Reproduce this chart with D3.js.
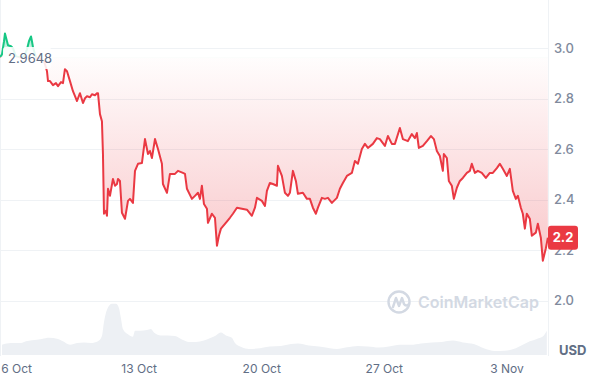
<!DOCTYPE html>
<html>
<head>
<meta charset="utf-8">
<script src="https://cdn.jsdelivr.net/npm/d3@7"></script>
<style>
  html, body { margin: 0; padding: 0; background: #fff; }
  svg { display: block; font-family: Inter, "Noto Sans", sans-serif; }
</style>
</head>
<body>
<svg id="chart" width="600" height="378"></svg>
<script>
// 1 month window, hours counted from the first sample
const startUtc = Date.UTC(2024, 9, 5, 2);
const endHour = 751;
const basePrice = 2.9648;
const lastLabel = '2.2';

const priceHours = [
    0, 2.7, 5.5, 6.8, 8.2, 11, 15.1, 17.8, 21.9, 27.4, 32.9, 37, 39.7, 42.5, 43.8, 45.2, 49.3, 54.8, 60.3,
    61.6, 64.4, 65.8, 68.5, 72.6, 76.7, 79.5, 83.6, 86.3, 89, 91.8, 95.9, 100, 102.8, 105.5, 109.6, 113.7,
    116.5, 119.2, 123.3, 126, 130.2, 132.9, 134.3, 137, 139.7, 141.1, 142.5, 145.2, 146.6, 148, 150.7, 154.8,
    157.6, 160.3, 161.7, 164.4, 167.1, 171.3, 175.4, 178.1, 182.2, 185, 189.1, 194.5, 198.7, 202.8, 205.5,
    208.2, 212.4, 216.5, 221.9, 223.3, 228.8, 232.9, 239.8, 243.9, 250.7, 253.5, 256.2, 263, 267.2, 271.3,
    274, 276.7, 279.5, 283.6, 285, 290.4, 294.6, 297.3, 300, 302.8, 308.3, 315.1, 319.2, 324.7, 331.5, 338.4,
    345.2, 349.4, 352.1, 358.9, 363.1, 365.8, 369.9, 374, 379.5, 380.9, 386.3, 390.5, 394.6, 397.3, 401.4,
    405.5, 408.3, 415.1, 420.6, 424.7, 428.8, 432.9, 435.7, 441.1, 445.3, 449.4, 454.8, 461.7, 465.8, 469.9,
    475.4, 482.2, 486.4, 490.5, 495.9, 500.1, 504.2, 511, 516.5, 520.6, 527.5, 531.6, 537, 541.2, 548, 552.1,
    559, 564.4, 568.6, 571.3, 574, 579.5, 585, 590.5, 594.6, 598.7, 602.8, 606.9, 608.3, 612.4, 615.1, 619.2,
    622, 626.1, 630.2, 634.3, 639.8, 643.9, 646.6, 650.8, 654.9, 660.3, 665.8, 671.3, 675.4, 680.9, 685,
    689.1, 694.6, 698.7, 702.8, 706.9, 709.7, 713.8, 716.5, 719.3, 722, 726.1, 728.8, 734.3, 737.1, 741.2,
    743.9, 748, 750.8
];
const priceValues = [
    2.9648, 2.976, 3.028, 3.059, 3.043, 3.012, 3.008, 3.000, 2.968, 2.964, 2.968, 2.996, 3.028, 3.047, 3.028, 3.004, 2.964, 2.957, 2.949,
    2.937, 2.909, 2.870, 2.870, 2.854, 2.862, 2.850, 2.866, 2.862, 2.917, 2.909, 2.870, 2.830, 2.810, 2.791, 2.822, 2.783,
    2.802, 2.810, 2.806, 2.818, 2.814, 2.822, 2.822, 2.739, 2.711, 2.581, 2.344, 2.356, 2.336, 2.443, 2.415, 2.482,
    2.455, 2.462, 2.482, 2.474, 2.348, 2.324, 2.395, 2.403, 2.387, 2.514, 2.542, 2.545, 2.640, 2.581, 2.593,
    2.565, 2.640, 2.601, 2.542, 2.462, 2.427, 2.502, 2.502, 2.514, 2.506, 2.502, 2.443, 2.403, 2.415, 2.427,
    2.403, 2.455, 2.383, 2.364, 2.308, 2.344, 2.328, 2.217, 2.257, 2.285, 2.304, 2.328, 2.344, 2.368, 2.364, 2.360,
    2.336, 2.368, 2.407, 2.395, 2.375, 2.435, 2.466, 2.462, 2.455, 2.534, 2.494, 2.427, 2.415, 2.427, 2.514,
    2.474, 2.423, 2.427, 2.403, 2.403, 2.368, 2.344, 2.368, 2.407, 2.403, 2.407, 2.387, 2.407, 2.443, 2.466,
    2.494, 2.506, 2.553, 2.542, 2.601, 2.621, 2.605, 2.621, 2.644, 2.640, 2.613, 2.652, 2.621, 2.621, 2.684, 2.640,
    2.632, 2.660, 2.644, 2.664, 2.605, 2.613, 2.632, 2.652, 2.640, 2.593, 2.573, 2.514, 2.581, 2.565, 2.474, 2.455,
    2.403, 2.447, 2.474, 2.486, 2.506, 2.514, 2.542, 2.506, 2.514, 2.506, 2.486, 2.506, 2.506, 2.525, 2.542,
    2.522, 2.494, 2.522, 2.435, 2.403, 2.415, 2.368, 2.344, 2.285, 2.344, 2.324, 2.257, 2.269, 2.304, 2.249,
    2.158, 2.206, 2.249
];

// volume, rough millions USD
const volumeHours = [
    2.7, 15.1, 28.8, 35.6, 43.8, 57.5, 67.1, 79.5, 86.3, 95.9, 105.5, 115.1, 124.7, 134.3, 139.7, 142.5,
    146.6, 153.4, 158.9, 163, 165.8, 168.5, 175.4, 182.2, 185, 191.8, 201.4, 206.9, 211, 220.6, 230.2,
    239.8, 249.3, 258.9, 268.5, 279.5, 289.1, 295.9, 302.8, 309.6, 317.8, 322, 331.5, 341.1, 356.2, 369.9,
    385, 398.7, 408.3, 423.3, 437, 452.1, 461.7, 475.4, 490.5, 504.2, 519.2, 532.9, 548, 563.1, 576.8,
    591.8, 605.5, 620.6, 634.3, 649.4, 663, 678.1, 691.8, 706.9, 716.5, 726.1, 735.7, 745.3, 749.4
];
const volumeValues = [
    102, 119, 119, 137, 147, 161, 172, 161, 137, 102, 119, 126, 119, 137, 189, 330,
    453, 512, 512, 470, 365, 260, 207, 182, 242, 242, 249, 260, 225, 196, 196,
    189, 154, 130, 130, 144, 172, 196, 225, 196, 172, 119, 77, 60, 67, 84,
    91, 109, 116, 95, 84, 67, 60, 77, 91, 84, 74, 84, 102, 102, 116,
    126, 130, 144, 126, 109, 67, 39, 42, 67, 102, 137, 161, 196, 242
];

const yTicks = [2.0, 2.2, 2.4, 2.6, 2.8, 3.0];
const xTickDays = [[9, 6], [9, 13], [9, 20], [9, 27], [10, 3]];

const width = 600;
const height = 378;
const plotRight = 548;
const red = '#ea3943';
const green = '#16c784';
const gridColor = '#eff2f5';
const labelColor = '#616e85';

const toDate = h => new Date(startUtc + h * 3600e3);
const prices = priceHours.map((h, i) => ({ t: toDate(h), v: priceValues[i] }));
const volumes = volumeHours.map((h, i) => ({ t: toDate(h), v: volumeValues[i] }));

const svg = d3.select('#chart');

const x = d3.scaleUtc()
    .domain([toDate(0), toDate(endHour)])
    .range([0, plotRight]);
const y = d3.scaleLinear()
    .domain([2.0, 3.0])
    .range([300.5, 48.3]);
const yVol = d3.scaleLinear()
    .domain([0, 520])
    .range([355, 303]);

const yBase = y(basePrice);
const yMin = y(d3.min(priceValues));
const yMax = y(d3.max(priceValues));

const defs = svg.append('defs');
defs.append('clipPath').attr('id', 'clipUp')
    .append('rect').attr('x', 0).attr('y', 0).attr('width', plotRight).attr('height', yBase);
defs.append('clipPath').attr('id', 'clipDown')
    .append('rect').attr('x', 0).attr('y', yBase).attr('width', plotRight).attr('height', height - yBase);

const redGrad = defs.append('linearGradient').attr('id', 'redFill')
    .attr('gradientUnits', 'userSpaceOnUse')
    .attr('x1', 0).attr('x2', 0).attr('y1', yBase).attr('y2', yMin);
redGrad.append('stop').attr('offset', 0).attr('stop-color', red).attr('stop-opacity', 0.01);
redGrad.append('stop').attr('offset', 1).attr('stop-opacity', 0.28).attr('stop-color', red);

const greenGrad = defs.append('linearGradient').attr('id', 'greenFill')
    .attr('gradientUnits', 'userSpaceOnUse')
    .attr('x1', 0).attr('x2', 0).attr('y1', yMax).attr('y2', yBase);
greenGrad.append('stop').attr('offset', 0).attr('stop-color', green).attr('stop-opacity', 0.45);
greenGrad.append('stop').attr('offset', 1).attr('stop-color', green).attr('stop-opacity', 0.08);

// volume
svg.append('path')
    .datum(volumes)
    .attr('fill', '#edf0f4')
    .attr('d', d3.area()
        .x(d => x(d.t))
        .y0(yVol(0))
        .y1(d => yVol(d.v))
        .curve(d3.curveMonotoneX));

// grid
svg.append('g')
    .selectAll('line')
    .data(yTicks)
    .join('line')
    .attr('x1', 0)
    .attr('x2', plotRight)
    .attr('y1', d => Math.round(y(d)) + 0.5)
    .attr('y2', d => Math.round(y(d)) + 0.5)
    .attr('stroke', gridColor);

svg.append('g')
    .selectAll('line')
    .data([0.5, plotRight + 0.5])
    .join('line')
    .attr('x1', d => d)
    .attr('x2', d => d)
    .attr('y1', 0)
    .attr('y2', 356)
    .attr('stroke', gridColor);

// price area + line, split at the base price
const area = d3.area()
    .x(d => x(d.t))
    .y0(yBase)
    .y1(d => y(d.v));
const line = d3.line()
    .x(d => x(d.t))
    .y(d => y(d.v));

svg.append('path').datum(prices)
    .attr('clip-path', 'url(#clipDown)')
    .attr('fill', 'url(#redFill)')
    .attr('d', area);
svg.append('path').datum(prices)
    .attr('clip-path', 'url(#clipUp)')
    .attr('fill', 'url(#greenFill)')
    .attr('d', area);
svg.append('path').datum(prices)
    .attr('clip-path', 'url(#clipDown)')
    .attr('fill', 'none')
    .attr('stroke', red)
    .attr('stroke-width', 2)
    .attr('stroke-linejoin', 'round')
    .attr('d', line);
svg.append('path').datum(prices)
    .attr('clip-path', 'url(#clipUp)')
    .attr('fill', 'none')
    .attr('stroke', green)
    .attr('stroke-width', 2)
    .attr('stroke-linejoin', 'round')
    .attr('d', line);

// watermark
const wm = svg.append('g').attr('transform', 'translate(399,302)');
wm.append('circle')
    .attr('r', 10.5)
    .attr('fill', 'none')
    .attr('stroke', '#d3d9e3')
    .attr('stroke-width', 2.4);
wm.append('path')
    .attr('d', 'M-6,5 L-3,-4 L0,4 L3,-4 L5,2 Q7,5 10,2')
    .attr('fill', 'none')
    .attr('stroke', '#d3d9e3')
    .attr('stroke-width', 2.4)
    .attr('stroke-linecap', 'round')
    .attr('stroke-linejoin', 'round');
wm.append('text')
    .attr('x', 19)
    .attr('y', 6)
    .attr('font-size', 16)
    .attr('font-weight', 600)
    .attr('fill', '#d3d9e3')
    .text('CoinMarketCap');

// base price label
svg.append('rect')
    .attr('x', 3).attr('y', 47)
    .attr('width', 48).attr('height', 22)
    .attr('rx', 3)
    .attr('fill', '#fff')
    .attr('fill-opacity', 0.88);
svg.append('text')
    .attr('x', 8)
    .attr('y', 63)
    .attr('font-size', 13)
    .attr('fill', labelColor)
    .text(basePrice.toFixed(4));

// axes
const yAxis = svg.append('g')
    .attr('transform', `translate(${plotRight},0)`)
    .call(d3.axisRight(y).tickValues(yTicks).tickSize(0).tickPadding(6).tickFormat(d3.format('.1f')));
yAxis.select('.domain').remove();
yAxis.selectAll('text')
    .attr('font-family', 'Inter, sans-serif')
    .attr('font-size', 13)
    .attr('font-weight', 500)
    .attr('fill', '#808a9d');

const xAxis = svg.append('g')
    .attr('transform', 'translate(0,356)')
    .call(d3.axisBottom(x)
        .tickValues(xTickDays.map(d => new Date(Date.UTC(2024, d[0], d[1]))))
        .tickSize(0)
        .tickPadding(8)
        .tickFormat(d3.utcFormat('%-d %b')));
xAxis.select('.domain').remove();
xAxis.selectAll('text')
    .attr('font-family', 'Inter, sans-serif')
    .attr('font-size', 12)
    .attr('fill', labelColor);

svg.append('text')
    .attr('x', 559)
    .attr('y', 355)
    .attr('font-size', 13)
    .attr('font-weight', 700)
    .attr('fill', labelColor)
    .text('USD');

// last price tag, sits over the 2.2 tick like the original
const lastY = y(priceValues[priceValues.length - 1]);
svg.append('rect')
    .attr('x', plotRight)
    .attr('y', lastY - 12)
    .attr('width', 30)
    .attr('height', 24)
    .attr('rx', 3)
    .attr('fill', red);
svg.append('text')
    .attr('x', plotRight + 15)
    .attr('y', lastY + 4.5)
    .attr('text-anchor', 'middle')
    .attr('font-size', 13)
    .attr('font-weight', 700)
    .attr('fill', '#fff')
    .text(lastLabel);
</script>
</body>
</html>
